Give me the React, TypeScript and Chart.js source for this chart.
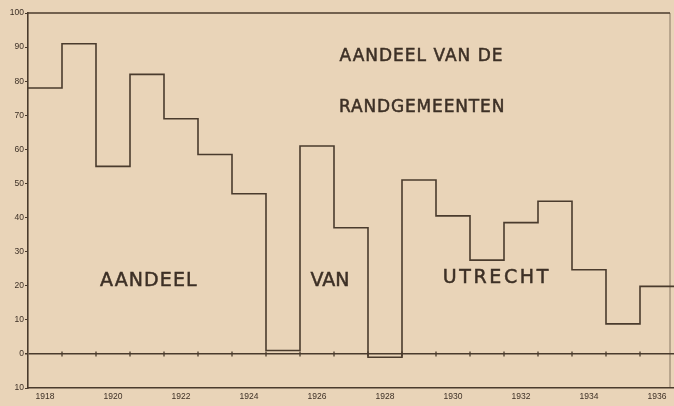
import React, { useEffect, useRef } from 'react';
import { Chart, registerables } from 'chart.js';

Chart.register(...registerables);

// ---- data ----
const years = [1918, 1919, 1920, 1921, 1922, 1923, 1924, 1925, 1926, 1927, 1928, 1929, 1930, 1931, 1932, 1933, 1934, 1935, 1936];
const shareUtrecht = [78, 91, 55, 82, 69, 58.5, 47, 1, 61, 37, -1, 51, 40.5, 27.5, 38.5, 44.8, 24.7, 8.8, 19.8];
const xTickYears = [1918, 1920, 1922, 1924, 1926, 1928, 1930, 1932, 1934, 1936];
const xTickLabels = ['1918', '1920', '1922', '1924', '1926', '1928', '1930', '1932', '1934', '1936'];
const yTickValues = [-10, 0, 10, 20, 30, 40, 50, 60, 70, 80, 90, 100];
const yTickLabels = ['10', '0', '10', '20', '30', '40', '50', '60', '70', '80', '90', '100'];
const annotationTexts = ['AANDEEL', 'VAN', 'UTRECHT', 'AANDEEL VAN DE', 'RANDGEMEENTEN'];

// ---- styling / placement ----
const INK = '#4a3b2d';
const TEXT_INK = '#3d3026';
const PAPER = '#e9d4b8';
const annotationPlacement = [
  { x: 1921.04, y: 21.4, size: 19, spacing: 1.1 },
  { x: 1926.38, y: 21.4, size: 19, spacing: 0 },
  { x: 1931.25, y: 22.3, size: 19, spacing: 2.6 },
  { x: 1929.06, y: 87.2, size: 17, spacing: 1 },
  { x: 1929.08, y: 72.4, size: 17, spacing: 0.85 },
];

const framePlugin = {
  id: 'frame',
  afterDraw(chart: any) {
    const { ctx, chartArea } = chart;
    const r = chartArea.right - 4;
    ctx.save();
    ctx.strokeStyle = INK;
    ctx.lineWidth = 1.5;
    ctx.beginPath();
    ctx.moveTo(chartArea.left, chartArea.top);
    ctx.lineTo(r, chartArea.top);
    ctx.stroke();
    ctx.lineWidth = 1;
    ctx.strokeStyle = 'rgba(74,59,45,0.6)';
    ctx.beginPath();
    ctx.moveTo(r, chartArea.top);
    ctx.lineTo(r, chartArea.bottom);
    ctx.stroke();
    ctx.restore();
  },
};

const textPlugin = {
  id: 'texts',
  afterDatasetsDraw(chart: any) {
    const { ctx, scales } = chart;
    ctx.save();
    ctx.fillStyle = TEXT_INK;
    ctx.strokeStyle = TEXT_INK;
    ctx.lineWidth = 0.5;
    ctx.textAlign = 'center';
    ctx.textBaseline = 'middle';
    annotationTexts.forEach((t, i) => {
      const p = annotationPlacement[i];
      ctx.font = `${p.size}px "DejaVu Sans", sans-serif`;
      (ctx as any).letterSpacing = `${p.spacing}px`;
      const px = scales.x.getPixelForValue(p.x) + p.spacing / 2;
      const py = scales.y.getPixelForValue(p.y);
      ctx.fillText(t, px, py);
      ctx.strokeText(t, px, py);
    });
    ctx.restore();
  },
};

export default function App() {
  const ref = useRef<HTMLCanvasElement | null>(null);

  useEffect(() => {
    if (!ref.current) return;
    const stepPoints = years.map((y, i) => ({ x: y - 0.5, y: shareUtrecht[i] }));
    stepPoints.push({ x: years[years.length - 1] + 0.5, y: shareUtrecht[shareUtrecht.length - 1] });
    const boundaryTicks = years.slice(1).map((y) => ({ x: y - 0.5, y: 0 }));

    const chart = new Chart(ref.current, {
      type: 'line',
      data: {
        datasets: [
          {
            label: 'Aandeel van Utrecht',
            data: stepPoints,
            stepped: 'before',
            borderColor: INK,
            borderWidth: 1.6,
            pointRadius: 0,
            fill: false,
          },
          {
            label: 'ticks',
            type: 'scatter',
            data: boundaryTicks,
            pointStyle: 'line',
            rotation: 90,
            radius: 2.5,
            borderColor: INK,
            borderWidth: 1.3,
            showLine: false,
          } as any,
        ],
      },
      options: {
        responsive: false,
        animation: false,
        layout: { autoPadding: false, padding: { top: 13, right: 0, left: 0, bottom: 0 } },
        plugins: { legend: { display: false }, tooltip: { enabled: false } },
        scales: {
          x: {
            type: 'linear',
            min: years[0] - 0.5,
            max: years[years.length - 1] + 0.5,
            afterBuildTicks: (axis: any) => {
              axis.ticks = xTickYears.map((v) => ({ value: v }));
            },
            afterFit: (scale: any) => {
              scale.height = 18;
              scale.paddingLeft = 0;
              scale.paddingRight = 0;
            },
            grid: { display: false, drawTicks: false },
            border: { display: true, color: INK, width: 1.6 },
            ticks: {
              color: TEXT_INK,
              padding: 4,
              maxRotation: 0,
              autoSkip: false,
              font: { family: '"Liberation Sans", sans-serif', size: 8.5 },
              callback: (v: any) => {
                const i = xTickYears.indexOf(Number(v));
                return i >= 0 ? xTickLabels[i] : '';
              },
            },
          },
          y: {
            type: 'linear',
            min: -10,
            max: 100,
            afterBuildTicks: (axis: any) => {
              axis.ticks = yTickValues.map((v) => ({ value: v }));
            },
            afterFit: (scale: any) => {
              scale.width = 28;
              scale.paddingTop = 0;
              scale.paddingBottom = 0;
            },
            grid: {
              drawOnChartArea: true,
              drawTicks: true,
              tickLength: 3,
              tickColor: INK,
              lineWidth: (ctx: any) => (ctx.tick && ctx.tick.value === 0 ? 1.5 : 1),
              color: (ctx: any) => (ctx.tick && ctx.tick.value === 0 ? INK : 'rgba(0,0,0,0)'),
            },
            border: { display: true, color: INK, width: 1.6 },
            ticks: {
              color: TEXT_INK,
              padding: 1,
              autoSkip: false,
              font: { family: '"Liberation Sans", sans-serif', size: 8.5 },
              callback: (v: any) => {
                const i = yTickValues.indexOf(Number(v));
                return i >= 0 ? yTickLabels[i] : '';
              },
            },
          },
        },
      },
      plugins: [framePlugin, textPlugin],
    });
    return () => chart.destroy();
  }, []);

  return (
    <div style={{ position: 'fixed', left: 0, top: 0, width: 674, height: 406, background: PAPER }}>
      <canvas ref={ref} width={674} height={406} style={{ display: 'block' }} />
    </div>
  );
}
